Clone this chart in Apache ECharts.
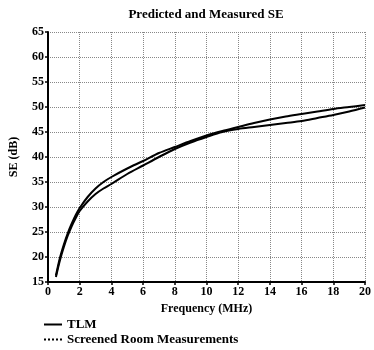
<!DOCTYPE html>
<html>
<head>
<meta charset="utf-8">
<script src="https://cdn.jsdelivr.net/npm/echarts@6/dist/echarts.min.js"></script>
<style>
  html, body { margin: 0; padding: 0; background: #fff; }
  #chart { width: 374px; height: 350px; }
</style>
</head>
<body>
<div id="chart"></div>
<script>
	// values (frequency in MHz, SE in dB)
	var freq = [0.5, 0.75, 1, 1.25, 1.5, 1.75, 2, 2.5, 3, 3.5, 4, 5, 6, 7, 8, 9, 10, 11, 12, 13, 14, 15, 16, 17, 18, 19, 20];
	var tlm = [16.3, 19.8, 22.5, 24.8, 26.7, 28.4, 29.8, 32, 33.7, 35, 36, 37.7, 39.2, 40.8, 42, 43.2, 44.3, 45.2, 46, 46.8, 47.5, 48.1, 48.6, 49.1, 49.6, 50, 50.4];
	var measured = [16, 19.3, 22, 24.3, 26.2, 27.8, 29.2, 31.1, 32.6, 33.7, 34.6, 36.6, 38.3, 40, 41.6, 42.9, 44, 45, 45.6, 46, 46.4, 46.8, 47.2, 47.8, 48.4, 49.1, 49.9];

	function pairs(xs, ys) {
		return xs.map(function (x, i) { return [x, ys[i]]; });
	}

	var serif = '"Liberation Serif", "DejaVu Serif", serif';
	var myChart = echarts.init(document.getElementById('chart'));

	var option = {
		animation: false,
		backgroundColor: '#fff',
		title: {
			text: 'Predicted and Measured SE',
			left: 201,
			textAlign: 'center',
			top: 3,
			textStyle: { fontFamily: serif, fontSize: 13, fontWeight: 'bold', color: '#000' }
		},
		legend: {
			orient: 'vertical',
			left: 38,
			top: 313,
			height: 37,
			itemWidth: 18,
			itemHeight: 8,
			itemGap: 2,
			itemStyle: { opacity: 0 },
			textStyle: { fontFamily: serif, fontSize: 13, fontWeight: 'bold', color: '#000' },
			data: [
				{ name: 'TLM' },
				{ name: 'Screened Room Measurements', lineStyle: { type: 'dotted', width: 2 } }
			]
		},
		grid: { left: 48, right: 7, top: 32, bottom: 68 },
		xAxis: {
			type: 'value',
			min: 0, max: 20, interval: 2,
			name: 'Frequency (MHz)',
			nameLocation: 'middle',
			nameGap: 19,
			nameTextStyle: { fontFamily: serif, fontSize: 12, fontWeight: 'bold', color: '#000' },
			axisLine: { lineStyle: { color: '#000', width: 2 } },
			axisTick: { length: 3, lineStyle: { color: '#000', width: 1.5 } },
			axisLabel: { fontFamily: serif, fontSize: 12, fontWeight: 'bold', color: '#000', margin: 4 },
			splitLine: { show: true, lineStyle: { color: '#888', type: 'dotted', width: 1 } }
		},
		yAxis: {
			type: 'value',
			min: 15, max: 65, interval: 5,
			name: 'SE (dB)',
			nameLocation: 'middle',
			nameGap: 28,
			nameTextStyle: { fontFamily: serif, fontSize: 12, fontWeight: 'bold', color: '#000' },
			axisLine: { show: true, lineStyle: { color: '#000', width: 2 } },
			axisTick: { show: true, length: 3, lineStyle: { color: '#000', width: 1.5 } },
			axisLabel: { fontFamily: serif, fontSize: 12, fontWeight: 'bold', color: '#000', margin: 4 },
			splitLine: { show: true, lineStyle: { color: '#888', type: 'dotted', width: 1 } }
		},
		series: [
			{
				name: 'TLM',
				type: 'line',
				smooth: 0.3,
				symbol: 'none',
				lineStyle: { color: '#000', width: 2 },
				itemStyle: { color: '#000' },
				data: pairs(freq, tlm)
			},
			{
				name: 'Screened Room Measurements',
				type: 'line',
				smooth: 0.3,
				symbol: 'none',
				lineStyle: { color: '#000', width: 2 },
				itemStyle: { color: '#000' },
				data: pairs(freq, measured)
			}
		]
	};
	myChart.setOption(option);
</script>
</body>
</html>
